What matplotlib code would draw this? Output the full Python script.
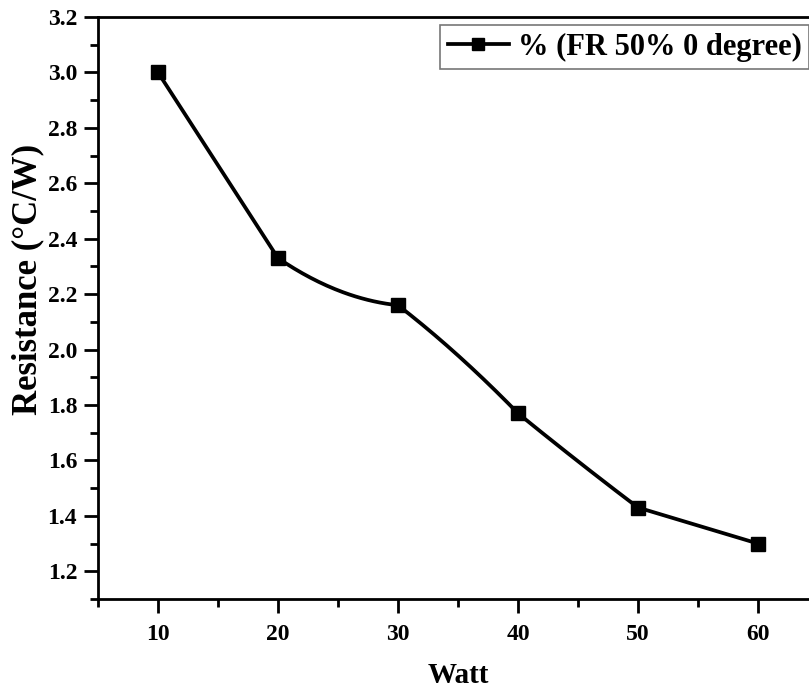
import numpy as np
import matplotlib
matplotlib.use("Agg")
import matplotlib.pyplot as plt
from matplotlib.ticker import MultipleLocator, FormatStrFormatter

watt = [10, 20, 30, 40, 50, 60]
resistance = [3.00, 2.33, 2.16, 1.77, 1.43, 1.30]
series_label = "% (FR 50% 0 degree)"
x_label = "Watt"
y_label = "Resistance (°C/W)"


def segment_curve(x, y, n=60, blend=0.5):
    """Piecewise cubic Hermite line style; inner segments bend like the
    quadratic through the previous point, end segments are straight."""
    x = np.asarray(x, float); y = np.asarray(y, float)
    xs_all, ys_all = [], []
    last = len(x) - 2
    for i in range(len(x) - 1):
        h = x[i + 1] - x[i]
        chord = (y[i + 1] - y[i]) / h
        if i == 0 or i == last:
            m0 = m1 = chord
        else:
            sd = (y[i + 1] - 2 * y[i] + y[i - 1]) / (2 * h)
            m0 = chord - blend * sd
            m1 = chord + blend * sd
        t = np.linspace(0, 1, n)
        h00 = 2 * t**3 - 3 * t**2 + 1
        h10 = t**3 - 2 * t**2 + t
        h01 = -2 * t**3 + 3 * t**2
        h11 = t**3 - t**2
        xs_all.append(x[i] + t * h)
        ys_all.append(h00 * y[i] + h10 * h * m0 + h01 * y[i + 1] + h11 * h * m1)
    return np.concatenate(xs_all), np.concatenate(ys_all)


plt.rcParams['font.family'] = ['Liberation Serif', 'DejaVu Serif']
plt.rcParams['font.weight'] = 'bold'

fig = plt.figure(figsize=(8.09, 6.9), dpi=100)
W, H = 809, 690
x0, x1 = 98, 818
y0, y1 = 599, 17
ax = fig.add_axes([x0 / W, 1 - y0 / H, (x1 - x0) / W, (y0 - y1) / H])

xs, ys = segment_curve(watt, resistance)
ax.plot(xs, ys, color='black', lw=2.7, zorder=2, solid_joinstyle='round')
ax.plot(watt, resistance, ls='none', marker='s', ms=9.5, color='black', zorder=3)
ax.plot([], [], color='black', lw=2.7, marker='s', ms=8, label=series_label)

ax.set_xlim(5, 65)
ax.set_ylim(1.1, 3.2)
ax.xaxis.set_minor_locator(MultipleLocator(5))
ax.yaxis.set_minor_locator(MultipleLocator(0.1))
ax.set_xticks([10, 20, 30, 40, 50, 60])
ax.set_yticks(np.round(np.arange(1.2, 3.21, 0.2), 1))
ax.yaxis.set_major_formatter(FormatStrFormatter('%.1f'))

for s in ax.spines.values():
    s.set_linewidth(2)
ax.tick_params(which='major', direction='out', length=10, width=2, labelsize=17)
ax.tick_params(axis='y', which='major', pad=5)
ax.tick_params(axis='x', which='major', pad=8)
ax.tick_params(which='minor', direction='out', length=6, width=2)
for lab in ax.get_xticklabels() + ax.get_yticklabels():
    lab.set_fontweight('bold')

ax.set_xlabel(x_label, fontsize=21, fontweight='bold')
ax.set_ylabel(y_label, fontsize=25, fontweight='bold', va='center')
ax.xaxis.set_label_coords(0.5, (y0 - 662) / (y0 - y1))
ax.yaxis.set_label_coords((28 - x0) / (x1 - x0), (y0 - 279) / (y0 - y1))

leg = ax.legend(loc='upper left', bbox_to_anchor=((440 - x0) / (x1 - x0), (y0 - 25) / (y0 - y1)),
                prop={'family': 'Liberation Serif', 'weight': 'bold', 'size': 22},
                frameon=True, fancybox=False, edgecolor='#555555', handlelength=2.0,
                handletextpad=0.3, borderpad=0.25, borderaxespad=0)
leg.get_frame().set_linewidth(1.2)

fig.savefig('out.png', dpi=100)
